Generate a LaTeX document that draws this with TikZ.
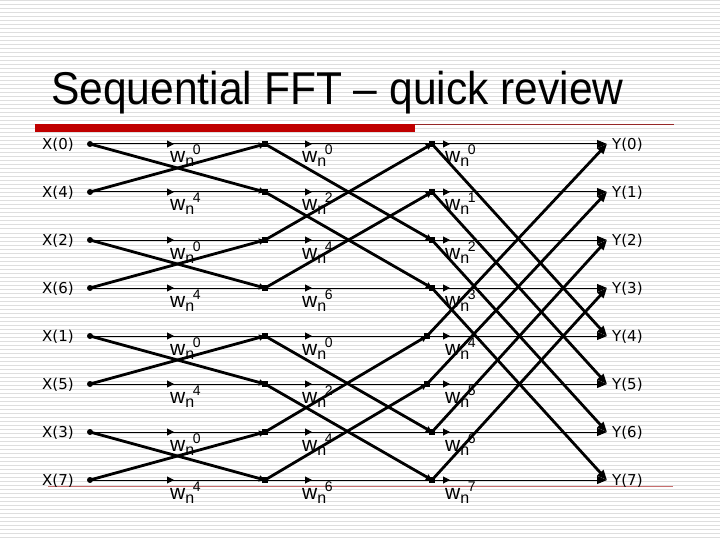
\documentclass[tikz,border=0pt]{standalone}
\usepackage{fontspec}
\setmainfont{Liberation Sans}
\newfontfamily\labfont{DejaVu Sans}
\usetikzlibrary{arrows.meta,decorations.markings}
\definecolor{barred}{RGB}{192,0,0}
\definecolor{darkredline}{RGB}{150,40,40}
\definecolor{pinkline}{RGB}{200,110,110}
\definecolor{stripegray}{RGB}{222,222,222}
\newcommand\wnk[1]{{\fontsize{21}{21}\selectfont w}\raisebox{-4pt}{\fontsize{16}{16}\selectfont n}\kern-1.5pt\raisebox{8pt}{\fontsize{14}{14}\selectfont #1}}
\begin{document}
\begin{tikzpicture}[x=1pt,y=-1pt,
  stripe/.style={stripegray,line width=1pt},
  thinline/.style={line width=1pt},
  thickline/.style={line width=2.8pt},
  midtip/.style={postaction={decorate},decoration={markings,mark=at position #1 with {\arrow{Triangle[length=7pt,width=7pt]}}}},
  intip/.style={-{Triangle[length=6pt,width=6pt]}},
  outtip/.style={-{Triangle[length=10pt,width=8pt]}},
  indot/.style={circle,fill,inner sep=0pt,minimum size=6pt},
  sqnode/.style={rectangle,fill,inner sep=0pt,minimum size=6.5pt},
  lab/.style={font=\labfont\fontsize{15}{15}\selectfont,inner sep=0pt},
  wlab/.style={inner sep=0pt,anchor=base west}
]
\useasboundingbox (0,0) rectangle (720,540);
\fill[white] (0,0) rectangle (720,540);
\foreach \k in {0,...,134} \draw[stripe] (0,4*\k+1) -- (720,4*\k+1);
% title and rules
\node[anchor=base west,inner sep=0pt,font=\fontsize{46}{46}\selectfont] (title) at (51,105) {\scalebox{0.925}[1]{Sequential FFT – quick review}};
\fill[barred] (35,124) rectangle (415,132);
\draw[darkredline,line width=1pt] (415,124.5) -- (674,124.5);
\draw[pinkline,line width=1pt] (48,486.5) -- (673,486.5);
% coordinates
\foreach \i/\xx in {0/432,1/432,2/432,3/432,4/427,5/427,6/432,7/432} {
  \pgfmathsetmacro\yy{144+48*\i}
  \coordinate (in\i) at (90,\yy);
  \coordinate (s1\i) at (265,\yy);
  \coordinate (s2\i) at (\xx,\yy);
  \coordinate (out\i) at (607,\yy);
}
% input / output labels
\foreach \i/\xi in {0/0,1/4,2/2,3/6,4/1,5/5,6/3,7/7} {
  \pgfmathsetmacro\yy{145+48*\i}
  \node[lab,anchor=west] (xl\i) at (42,\yy) {X(\xi)};
  \node[lab,anchor=west] (yl\i) at (612,\yy) {Y(\i)};
}
% thin horizontal connectors
\foreach \i/\xx in {0/432,1/432,2/432,3/432,4/427,5/427,6/432,7/432} {
  \pgfmathsetmacro\pa{450-\xx}
  \draw[thinline,midtip=84pt] (in\i) -- (s1\i);
  \draw[thinline,midtip=47pt] (s1\i) -- (s2\i);
  \draw[thinline,outtip,midtip=\pa pt] (s2\i) -- (out\i);
}
% stage 1 butterflies
\foreach \a/\b in {0/1,2/3,4/5,6/7} {
  \draw[thickline,intip] (in\a) -- (s1\b);
  \draw[thickline,intip] (in\b) -- (s1\a);
}
% stage 2 butterflies
\foreach \a/\b in {0/2,1/3,4/6,5/7} {
  \draw[thickline,intip] (s1\a) -- (s2\b);
  \draw[thickline,intip] (s1\b) -- (s2\a);
}
% stage 3 butterflies
\foreach \a/\b in {0/4,1/5,2/6,3/7} {
  \draw[thickline,outtip] (s2\a) -- (out\b);
  \draw[thickline,outtip] (s2\b) -- (out\a);
}
% junction nodes
\foreach \i in {0,...,7} {
  \node[indot] (ni\i) at (in\i) {};
  \node[sqnode] (na\i) at (s1\i) {};
  \node[sqnode] (nb\i) at (s2\i) {};
}
% twiddle labels
\foreach \i/\p/\q/\r in {0/0/0/0,1/4/2/1,2/0/4/2,3/4/6/3,4/0/0/4,5/4/2/5,6/0/4/6,7/4/6/7} {
  \pgfmathsetmacro\yy{163+48*\i}
  \node[wlab] (wa\i) at (170,\yy) {\wnk{\p}};
  \node[wlab] (wb\i) at (302,\yy) {\wnk{\q}};
  \node[wlab] (wc\i) at (445,\yy) {\wnk{\r}};
}
\end{tikzpicture}
\end{document}
